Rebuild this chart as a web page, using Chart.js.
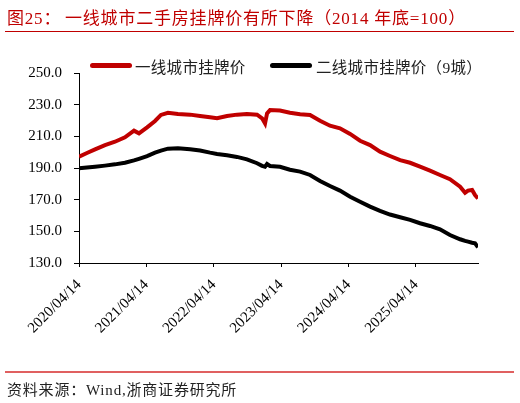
<!DOCTYPE html>
<html>
<head>
<meta charset="utf-8">
<script src="https://cdn.jsdelivr.net/npm/chart.js@4.4.1/dist/chart.umd.min.js"></script>
<style>
    body { margin: 0; width: 520px; height: 403px; position: relative; background: #fff; overflow: hidden;
           font-family: "Liberation Serif", "Noto Sans CJK SC", serif; }
    #chart { position: absolute; left: 0; top: 0; }
    .title { position: absolute; top: 4px; font-size: 17px; color: #c00000; white-space: nowrap; letter-spacing: 0.8px; }
    .rule-top { position: absolute; left: 5px; top: 31px; width: 509px; height: 1px; background: #c00000; }
    .rule-bottom { position: absolute; left: 5px; top: 371px; width: 509px; height: 2px; background: #e06060; }
    .source { position: absolute; left: 7px; top: 378px; font-size: 15px; color: #222; white-space: nowrap; letter-spacing: 0.8px; }
    .swatch { position: absolute; top: 63px; width: 42px; height: 5px; border-radius: 3px; }
    .legend-text { position: absolute; top: 55px; font-size: 15.5px; color: #222; white-space: nowrap; letter-spacing: 0.3px; }
</style>
</head>
<body>
<canvas id="chart" width="520" height="403"></canvas>

<div class="title" style="left:7px">图25：</div>
<div class="title" style="left:65px">一线城市二手房挂牌价有所下降（2014 年底=100）</div>
<div class="rule-top"></div>

<div class="swatch" style="left:90px;background:#c00000"></div>
<div class="legend-text" style="left:135px">一线城市挂牌价</div>
<div class="swatch" style="left:270px;background:#000"></div>
<div class="legend-text" style="left:316px">二线城市挂牌价（9城）</div>

<div class="rule-bottom"></div>
<div class="source">资料来源：Wind,浙商证券研究所</div>

<script>
// 日期
const dates = [
    '2020/04/14', '2020/05/27', '2020/07/10', '2020/09/02', '2020/10/26', '2020/12/19',
    '2021/02/06', '2021/03/05', '2021/04/18', '2021/05/31', '2021/07/02', '2021/08/09',
    '2021/10/02', '2021/12/07', '2022/01/30', '2022/03/25', '2022/05/02', '2022/06/25',
    '2022/08/18', '2022/10/11', '2022/12/05', '2023/01/01', '2023/01/17', '2023/01/28',
    '2023/02/13', '2023/04/08', '2023/06/01', '2023/07/26', '2023/09/18', '2023/11/11',
    '2024/01/04', '2024/02/27', '2024/04/22', '2024/06/15', '2024/08/08', '2024/10/01',
    '2024/11/24', '2025/01/18', '2025/03/13', '2025/05/06', '2025/06/29', '2025/08/22',
    '2025/10/15', '2025/12/09', '2026/01/05', '2026/01/21', '2026/02/12', '2026/02/28',
    '2026/03/16'
];

// 一线城市挂牌价
const tier1 = [
    197.1, 199.5, 201.8, 204.5, 206.6, 209.4,
    213.6, 211.9, 215.7, 219.7, 223.5, 224.9,
    224.1, 223.7, 222.8, 222.0, 221.4, 222.8,
    223.7, 224.1, 223.7, 221.4, 218.2, 224.5,
    226.6, 226.3, 224.9, 223.9, 223.5, 219.9,
    216.7, 215.1, 211.5, 207.2, 204.5, 200.3,
    197.6, 195.0, 193.3, 190.8, 188.3, 185.6,
    182.9, 178.2, 174.4, 175.7, 176.1, 172.9,
    170.8
];

// 二线城市挂牌价（9城）
const tier2 = [
    189.8, 190.3, 190.8, 191.5, 192.3, 193.3,
    194.8, 195.8, 197.5, 199.7, 201.0, 202.2,
    202.5, 201.8, 201.0, 199.7, 198.9, 198.0,
    197.0, 195.5, 193.0, 191.4, 190.8, 192.5,
    191.3, 190.8, 188.9, 187.7, 185.6, 181.8,
    178.6, 175.7, 171.9, 168.7, 165.6, 162.9,
    160.6, 158.9, 157.2, 155.1, 153.4, 151.3,
    147.7, 145.0, 144.0, 143.5, 142.8, 142.4,
    139.9
];

// 刻度
const tickDates = ['2020/04/14', '2021/04/14', '2022/04/14', '2023/04/14', '2024/04/14', '2025/04/14'];
const yTicks = [130, 150, 170, 190, 210, 230, 250];

function toDay(s) {
    const p = s.split('/');
    return Date.UTC(+p[0], +p[1] - 1, +p[2]) / 86400000;
}

const base = toDay(dates[0]);
const xs = dates.map(d => toDay(d) - base);
const tickDays = tickDates.map(d => toDay(d) - base);

function points(values) {
    return values.map((v, i) => ({ x: xs[i], y: v }));
}

const ctx = document.getElementById('chart').getContext('2d');
new Chart(ctx, {
    type: 'line',
    data: {
        datasets: [
            {
                label: '一线城市挂牌价',
                data: points(tier1),
                borderColor: '#c00000',
                borderWidth: 4,
                pointRadius: 0,
                tension: 0
            },
            {
                label: '二线城市挂牌价（9城）',
                data: points(tier2),
                borderColor: '#000000',
                borderWidth: 4,
                pointRadius: 0,
                tension: 0
            }
        ]
    },
    options: {
        responsive: false,
        animation: false,
        layout: { padding: { top: 73, right: 42, left: 0, bottom: 0 } },
        plugins: {
            legend: { display: false },
            tooltip: { enabled: false }
        },
        scales: {
            x: {
                type: 'linear',
                min: 0,
                max: xs[xs.length - 1],
                afterBuildTicks: scale => { scale.ticks = tickDays.map(v => ({ value: v })); },
                afterFit: scale => { scale.height = 140; },
                grid: { drawOnChartArea: false, drawTicks: true, tickLength: 4, color: '#000' },
                border: { color: '#000', width: 1 },
                ticks: {
                    minRotation: 45,
                    maxRotation: 45,
                    padding: 9,
                    color: '#000',
                    font: { family: 'Liberation Serif', size: 15 },
                    callback: value => {
                        const i = tickDays.indexOf(value);
                        return i >= 0 ? tickDates[i] : '';
                    }
                }
            },
            y: {
                min: 130,
                max: 250,
                afterBuildTicks: scale => { scale.ticks = yTicks.map(v => ({ value: v })); },
                afterFit: scale => { scale.width = 79; },
                grid: { drawOnChartArea: false, drawTicks: true, tickLength: 5, color: '#000' },
                border: { color: '#000', width: 1 },
                ticks: {
                    padding: 12,
                    color: '#000',
                    font: { family: 'Liberation Serif', size: 15 },
                    callback: value => value.toFixed(1)
                }
            }
        }
    }
});
</script>
</body>
</html>
